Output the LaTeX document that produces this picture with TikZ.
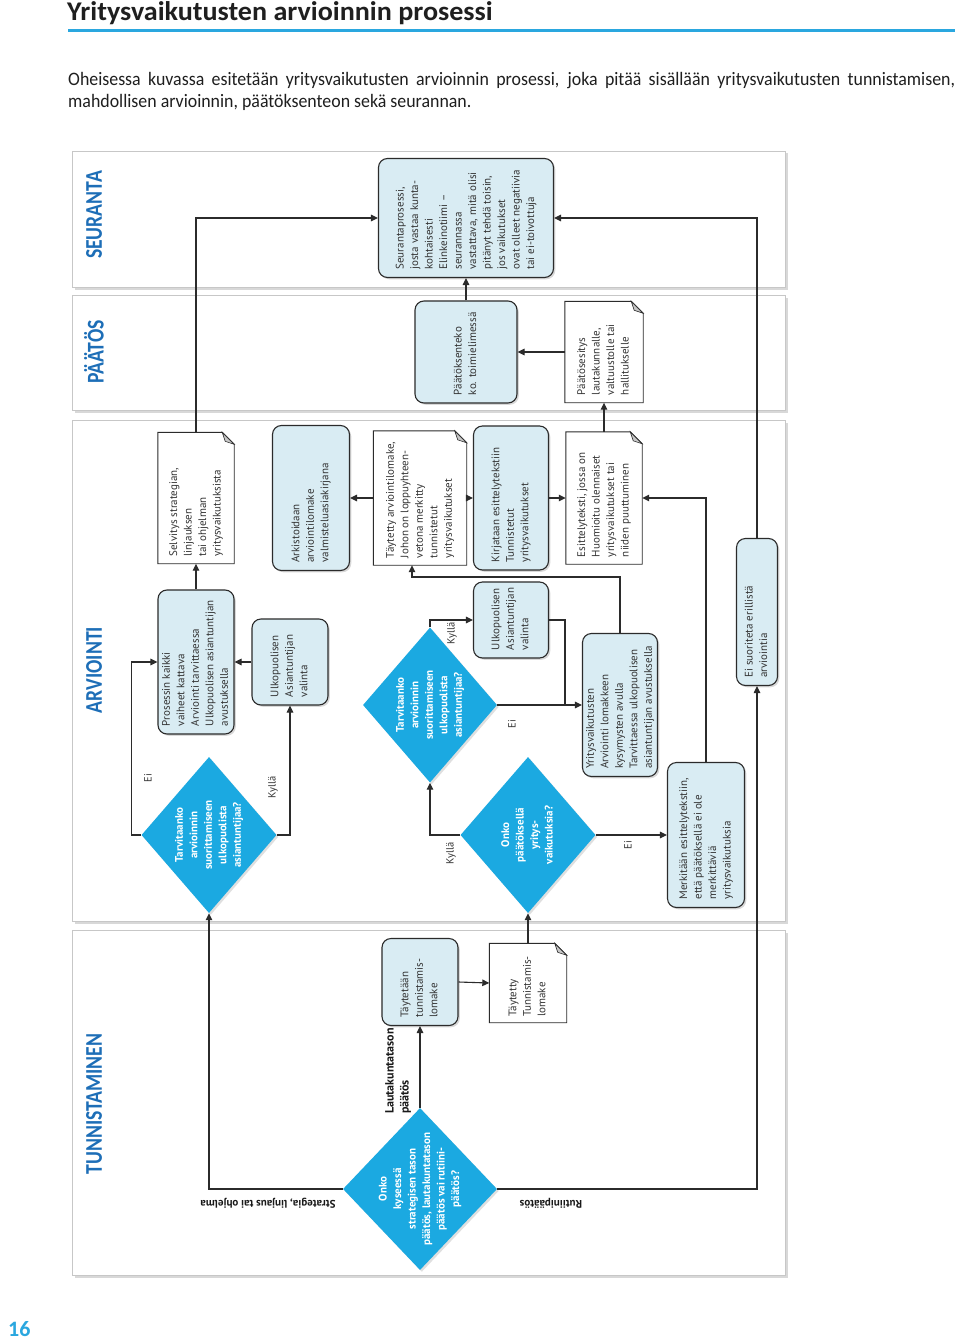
\documentclass[tikz,border=0pt]{standalone}
\usepackage{fontspec}
\setmainfont{PT Sans}
\newfontfamily\cfont{Carlito}
\usepackage{graphicx}
\usetikzlibrary{shapes.geometric,arrows.meta,shadows}
\definecolor{lanelbl}{HTML}{1D6EB7}
\definecolor{boxfill}{HTML}{D9ECF3}
\definecolor{dfill}{HTML}{1BA9E1}
\definecolor{edge}{HTML}{2B2B2B}
\definecolor{rulec}{HTML}{2AA7DF}
\definecolor{txt}{HTML}{333333}
\newcommand\rt[2]{\rotatebox{90}{\makebox[#1pt][l]{\begin{tabular}{@{}l@{}}#2\end{tabular}}}}
\newcommand\ct[1]{\rotatebox{90}{\begin{tabular}{@{}c@{}}#1\end{tabular}}}
\newcommand\docout[1]{%
  \draw[docline] (#1.north west) -- ([xshift=-12pt]#1.north east) -- ([yshift=-12pt]#1.north east) -- (#1.south east) -- (#1.south west) -- cycle;
  \filldraw[fill=black!22, draw=edge, line width=0.6pt] ([xshift=-12pt]#1.north east) -- ([xshift=-9pt,yshift=-9pt]#1.north east) -- ([yshift=-12pt]#1.north east) -- cycle;}
\tikzset{
  rbox/.style={draw=edge, line width=1.1pt, fill=boxfill, rounded corners=9pt, inner sep=0pt,
    drop shadow={shadow xshift=1.8pt, shadow yshift=-1.8pt, opacity=0.3},
    font=\fontsize{11}{14.5}\selectfont, text=txt},
  docbox/.style={inner sep=0pt, font=\fontsize{11}{14.5}\selectfont, text=txt},
  docline/.style={draw=edge, line width=0.9pt},
  dia/.style={diamond, fill=dfill, inner sep=0pt, draw=none,
    drop shadow={shadow xshift=1.8pt, shadow yshift=-1.8pt, opacity=0.25}},
  dtext/.style={text=white, font=\bfseries\fontsize{11}{14.5}\selectfont},
  arr/.style={draw=edge, line width=1.1pt, -{Triangle[length=7pt,width=6.5pt]}},
  conn/.style={draw=edge, line width=1.1pt},
  lbl/.style={font=\fontsize{10.5}{12}\selectfont, text=txt, inner sep=0pt},
  blbl/.style={font=\bfseries\fontsize{11}{13}\selectfont, text=black!90, inner sep=0pt},
  lane/.style={draw=black!22, fill=white, line width=0.8pt,
    drop shadow={shadow xshift=2.5pt, shadow yshift=-2.5pt, opacity=0.3}},
  lanetitle/.style={text=lanelbl, font=\cfont\bfseries\fontsize{24}{28}\selectfont, rotate=90, inner sep=0pt},
}
\begin{document}
\begin{tikzpicture}[x=1pt,y=-1pt]
\useasboundingbox[fill=white] (0,0) rectangle (960,1340);
% heading
\node[anchor=base west, inner sep=0pt, text=black!88] (title) at (67,20.5)
  {\cfont\bfseries\fontsize{27}{30}\selectfont\scalebox{1.04}[1]{Yritysvaikutusten arvioinnin prosessi}};
\draw[rulec, line width=2.5pt] (68,30.5) -- (955,30.5);
\node[anchor=north west, inner sep=0pt, text=black!88] (intro) at (68,72)
  {\scalebox{0.94}[1]{\parbox{943.6pt}{\cfont\fontsize{19}{22.5}\selectfont\noindent Oheisessa kuvassa esitetään yritysvaikutusten arvioinnin prosessi, joka pitää sisällään yritysvaikutusten tunnistamisen,\linebreak mahdollisen arvioinnin, päätöksenteon sekä seurannan.}}};
\node[anchor=base west, inner sep=0pt, text=rulec] (pnum) at (8,1336)
  {\cfont\bfseries\fontsize{22}{24}\selectfont 16};

% lanes
\path[lane] (72,151) rectangle (785,287);
\path[lane] (72,295) rectangle (785,410);
\path[lane] (72,420) rectangle (785,921);
\path[lane] (72,930) rectangle (785,1275);
\node[lanetitle] (tS) at (94,215) {\scalebox{0.82}[1]{SEURANTA}};
\node[lanetitle] (tP) at (94,352) {\scalebox{0.82}[1]{PÄÄTÖS}};
\node[lanetitle] (tA) at (94,670) {\scalebox{0.82}[1]{ARVIOINTI}};
\node[lanetitle] (tT) at (94,1104) {\scalebox{0.82}[1]{TUNNISTAMINEN}};

% SEURANTA
\node[rbox, minimum width=175, minimum height=119] (n17) at (466,218)
  {\rt{103}{Seurantaprosessi,\\josta vastaa kunta-\\kohtaisesti\\Elinkeinotiimi –\\seurannassa\\vastattava, mitä olisi\\pitänyt tehdä toisin,\\jos vaikutukset\\ovat olleet negatiivia\\tai ei-toivottuja}};

% PAATOS
\node[rbox, minimum width=102, minimum height=102] (n15) at (466,352)
  {\rt{86}{Päätöksenteko\\ko. toimielimessä}};
\node[docbox, minimum width=78, minimum height=101] (doc16) at (604,352)
  {\rt{86}{Päätösesitys\\lautakunnalle,\\valtuustolle tai\\hallitukselle}};

% ARVIOINTI
\node[dia, minimum width=135, minimum height=156,
  label={[dtext]center:{\ct{Tarvitaanko\\arvioinnin\\suorittamiseen\\ulkopuolista\\asiantuntijaa?}}}] (d1) at (209,835) {};
\node[rbox, minimum width=76, minimum height=144] (n2) at (196,662)
  {\rt{128}{Prosessin kaikki\\vaiheet kattava\\Arviointi tarvittaessa\\Ulkopuolisen asiantuntijan\\avustuksella}};
\node[docbox, minimum width=76, minimum height=131] (doc3) at (196,498)
  {\rt{117}{Selvitys strategian,\\linjauksen\\tai ohjelman\\yritysvaikutuksista}};
\node[rbox, minimum width=76, minimum height=86] (n4) at (290,662)
  {\rt{70}{Ulkopuolisen\\Asiantuntijan\\valinta}};
\node[rbox, minimum width=77, minimum height=145] (n5) at (311,498)
  {\rt{129}{Arkistoidaan\\arviointilomake\\valmisteluasiakirjana}};
\node[docbox, minimum width=93, minimum height=134] (doc6) at (420,498)
  {\rt{120}{Täytetty arviointilomake,\\Johon on loppuyhteen-\\vetona merkitty\\tunnistetut\\yritysvaikutukset}};
\node[rbox, minimum width=75, minimum height=144] (n7) at (511,498)
  {\rt{128}{Kirjataan esittelytekstiin\\Tunnistetut\\yritysvaikutukset}};
\node[docbox, minimum width=76, minimum height=132] (doc8) at (604,498)
  {\rt{118}{Esittelyteksti, jossa on\\Huomioitu olennaiset\\yritysvaikutukset tai\\niiden puuttuminen}};
\node[dia, minimum width=134, minimum height=155,
  label={[dtext]center:{\ct{Tarvitaanko\\arvioinnin\\suorittamiseen\\ulkopuolista\\asiantuntijaa?}}}] (d2) at (430,705) {};
\node[rbox, minimum width=75, minimum height=76] (n10) at (511,620)
  {\rt{60}{Ulkopuolisen\\Asiantuntijan\\valinta}};
\node[dia, minimum width=135, minimum height=156,
  label={[dtext]center:{\ct{Onko\\päätöksellä\\yritys-\\vaikutuksia?}}}] (d3) at (528,835) {};
\node[rbox, minimum width=75, minimum height=143] (n12) at (620,705)
  {\rt{127}{Yritysvaikutusten\\Arviointi lomakkeen\\kysymysten avulla\\Tarvittaessa ulkopuolisen\\asiantuntijan avustuksella}};
\node[rbox, minimum width=77, minimum height=145] (n13) at (706,835)
  {\rt{129}{Merkitään esittelytekstiin,\\että päätöksellä ei ole\\merkittäviä\\yritysvaikutuksia}};
\node[rbox, minimum width=41, minimum height=147] (n14) at (757,612)
  {\rt{131}{Ei suoriteta erillistä\\arviointia}};

% TUNNISTAMINEN
\node[dia, minimum width=154, minimum height=162,
  label={[dtext]center:{\ct{Onko\\kyseessä\\strategisen tason\\päätös, lautakuntatason\\päätös vai rutiini-\\päätös?}}}] (d0) at (420,1189) {};
\node[rbox, minimum width=76, minimum height=87] (n19) at (420,982)
  {\rt{71}{Täytetään\\tunnistamis-\\lomake}};
\node[docbox, minimum width=77, minimum height=79] (doc20) at (528,983)
  {\rt{67}{Täytetty\\Tunnistamis-\\lomake}};

% document outlines
\docout{doc3}
\docout{doc6}
\docout{doc8}
\docout{doc16}
\docout{doc20}

% connectors
\coordinate (j1) at (565,705);
\draw[arr] (d0.west) -| (d1.south);
\draw[arr] (d0.north) -- (n19.south);
\draw[arr] (n19.east) -- (doc20.west);
\draw[arr] (doc20.north) -- (d3.south);
\draw[arr] (d0.east) -| (n14.south);
\draw[arr] (d1.west) -- ++(-10,0) |- (n2.west);
\draw[arr] (d1.east) -| (n4.south);
\draw[arr] (n4.west) -- (n2.east);
\draw[arr] (n2.north) -- (doc3.south);
\draw[arr] (doc3.north) |- (n17.west);
\draw[arr] (doc6.west) -- (n5.east);
\draw[arr] (doc6.east) -- (n7.west);
\draw[arr] (n7.east) -- (doc8.west);
\draw[arr] (doc8.north) -- (doc16.south);
\draw[arr] (doc16.west) -- (n15.east);
\draw[arr] (n15.north) -- (n17.south);
\draw[arr] (n14.north) |- (n17.east);
\draw[arr] (d3.west) -| (d2.south);
\draw[arr] (d2.north) |- (n10.west);
\draw[arr] (d2.east) -- (n12.west);
\draw[conn] (n10.east) -| (j1);
\draw[arr] (n12.north) -- (n12.north |- 0,577) -| ([xshift=-8pt]doc6.south);
\draw[arr] (n13.north) |- (doc8.east);
\draw[arr] (d3.east) -- (n13.west);

% connector labels
\node[blbl, rotate=180] (lstr) at (268,1203) {Strategia, linjaus tai ohjelma};
\node[blbl, rotate=180] (lrut) at (551,1203) {Rutiinipäätös};
\node[blbl, rotate=90, align=left, font=\bfseries\fontsize{12}{15}\selectfont] (llau) at (398,1071) {Lautakuntatason\\päätös};
\node[lbl, rotate=90] (le1) at (148,778) {Ei};
\node[lbl, rotate=90] (lk1) at (273,787) {Kyllä};
\node[lbl, rotate=90] (lk2) at (451,853) {Kyllä};
\node[lbl, rotate=90] (lk3) at (452,633) {Kyllä};
\node[lbl, rotate=90] (le2) at (512,724) {Ei};
\node[lbl, rotate=90] (le3) at (628,845) {Ei};
\end{tikzpicture}
\end{document}
